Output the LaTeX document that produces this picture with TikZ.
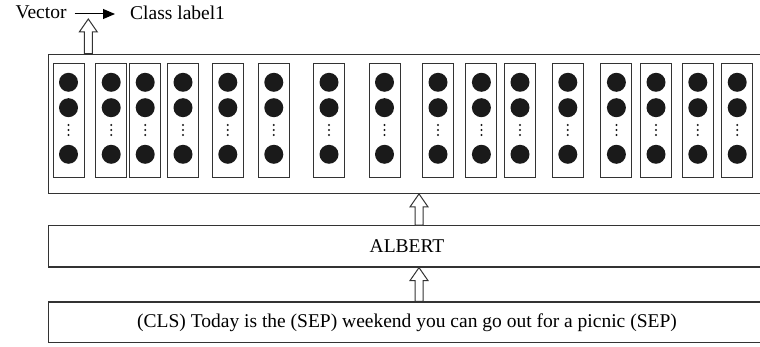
\documentclass[tikz,border=0pt]{standalone}
\usepackage{fontspec}
\setmainfont{Liberation Serif}
\usetikzlibrary{arrows.meta, positioning, calc}
\definecolor{edge}{HTML}{333333}
\definecolor{ink}{HTML}{1A1A1A}
\newcommand\bigtext{\fontsize{19.5}{23}\selectfont}
% hollow block arrow from base (#1) up to tip (#2)
\newcommand\hollowup[2]{%
  \draw[blockarr] let \p1=(#1), \p2=(#2) in
    (\x1-4pt,\y1) -- (\x1-4pt,\y2-13pt) -- (\x1-9pt,\y2-13pt) -- (\x1,\y2)
    -- (\x1+9pt,\y2-13pt) -- (\x1+4pt,\y2-13pt) -- (\x1+4pt,\y1) -- cycle;}

\begin{document}
\begin{tikzpicture}[x=1pt, y=-1pt,
  box/.style={draw=edge, line width=1.2pt, inner sep=0pt, minimum width=717.4pt, font=\bigtext},
  col/.style={draw=edge, line width=1pt, inner sep=0pt, minimum width=31pt, minimum height=113.7pt},
  lbl/.style={inner sep=0pt, font=\bigtext},
  blockarr/.style={draw=edge, line width=1pt, fill=white},
  vecarr/.style={draw=black, line width=1pt, -{Triangle[length=12pt,width=10pt]}}
  ]
  \clip (0,0) rectangle (760,347);
  % token vectors
  \node[box, minimum height=139pt] (enc) at (407,123.8) {};
  \foreach \cx [count=\i] in {68.5,111.2,145.2,183,227.8,273.8,329,384.5,438,481.4,520,567.8,616.4,656,697.8,737.2} {
    \node[col] (col\i) at (\cx,120.85) {};
    \fill[ink] (\cx,82.3) circle (9.5pt) (\cx,107.7) circle (9.5pt) (\cx,154.3) circle (9.5pt);
    \foreach \dy in {125,130,135} \fill[ink] (\cx,\dy) circle (1.1pt);
  }
  % model and input
  \node[box, minimum height=41.3pt] (albert) at (407,246.35) {ALBERT};
  \node[box, minimum height=40.7pt] (input) at (407,322.35) {(CLS) Today is the (SEP) weekend you can go out for a picnic (SEP)};
  \coordinate (axis) at (419,0);
  \hollowup{input.north -| axis}{albert.south -| axis}
  \hollowup{albert.north -| axis}{enc.south -| axis}
  % classification output
  \coordinate (vtip) at (88.3,19);
  \hollowup{enc.north -| vtip}{vtip}
  \node[lbl, anchor=east] (vec) at (66.7,12.5) {Vector};
  \node[lbl, anchor=west] (cls) at (130,12.5) {Class label1};
  \draw[vecarr] ([xshift=8pt,yshift=-1.5pt]vec.east) -- ([xshift=-15pt,yshift=-1.5pt]cls.west);
\end{tikzpicture}
\end{document}
